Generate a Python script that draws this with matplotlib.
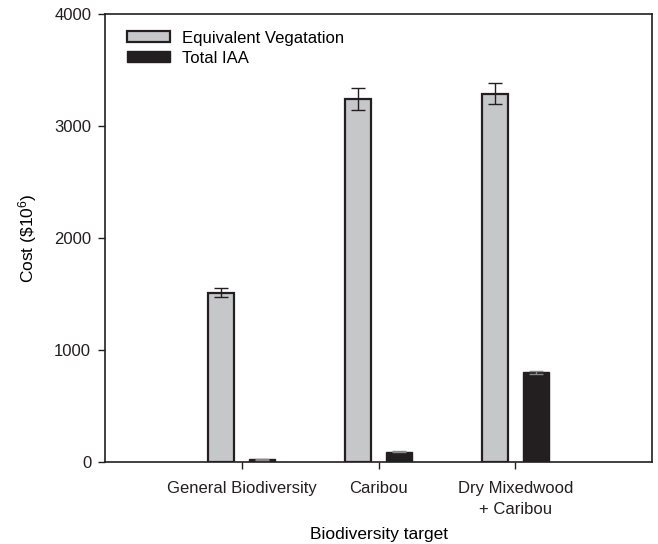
import numpy as np
import matplotlib.pyplot as plt

plt.rcParams['font.family'] = ['Liberation Sans', 'DejaVu Sans']
plt.rcParams['mathtext.fontset'] = 'custom'
plt.rcParams['mathtext.rm'] = 'Liberation Sans'
plt.rcParams['mathtext.it'] = 'Liberation Sans'

# data
targets = ['General Biodiversity', 'Caribou', 'Dry Mixedwood\n+ Caribou']
veg_cost = [1510, 3240, 3290]
veg_err = [40, 98, 93]
iaa_cost = [25, 90, 800]
iaa_err = [3, 5, 17]

x = np.arange(len(targets))
w = 0.19
off = 0.15

fig = plt.figure(figsize=(6.58, 5.44), dpi=100)
ax = fig.add_axes([0.1596, 0.1507, 0.8313, 0.8236])

ax.bar(x - off, veg_cost, w, color='#c6c7c9', edgecolor='#231f20', linewidth=1.6,
       label='Equivalent Vegatation', zorder=2)
ax.bar(x + off, iaa_cost, w, color='#231f20', edgecolor='#231f20', linewidth=1.0,
       label='Total IAA', zorder=2)
ax.errorbar(x - off, veg_cost, yerr=veg_err, fmt='none', ecolor='#231f20',
            elinewidth=1.0, capsize=5, capthick=1.0, zorder=3)
ax.errorbar(x + off, iaa_cost, yerr=iaa_err, fmt='none', ecolor='#888888',
            elinewidth=1.0, capsize=5, capthick=1.0, zorder=3)

ax.set_xlim(-1, 3)
ax.set_ylim(0, 4000)
ax.set_yticks([0, 1000, 2000, 3000, 4000])
ax.set_xticks(x)
ax.set_xticklabels(targets, fontsize=12, linespacing=1.45)
ax.tick_params(axis='y', labelsize=12, direction='out', length=5, width=1,
               pad=5, colors='#231f20')
ax.tick_params(axis='x', direction='out', length=5, width=1, pad=9, colors='#231f20')
for s in ax.spines.values():
    s.set_linewidth(1.2)
    s.set_color('#231f20')

ax.set_xlabel('Biodiversity target', fontsize=12.5, labelpad=7)
ax.set_ylabel(r'Cost (\$10$^6$)', fontsize=12.5, labelpad=11)

ax.legend(loc='upper left', frameon=False, fontsize=12, handlelength=2.6,
          handleheight=0.65, borderaxespad=0.6, labelspacing=0.3,
          handletextpad=0.7, bbox_to_anchor=(0.01, 1.0))

fig.savefig('out.png', dpi=100)
